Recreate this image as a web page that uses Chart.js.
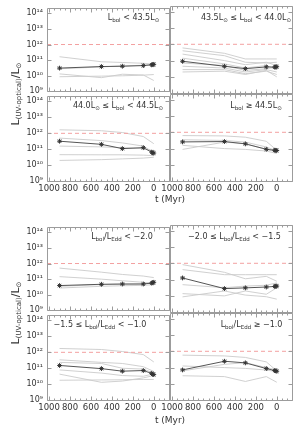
<!DOCTYPE html>
<html><head><meta charset="utf-8">
<script src="https://cdn.jsdelivr.net/npm/chart.js@4.4.1/dist/chart.umd.min.js"></script>
<style>
html,body{margin:0;padding:0;background:#fff;}
#wrap{position:relative;width:306px;height:433px;overflow:hidden;font-family:"DejaVu Sans",sans-serif;color:#333;}
canvas{position:absolute;}
.lab{position:absolute;font-size:8px;white-space:nowrap;transform:translate(-50%,-50%);line-height:1;color:#333;}
.lab sub{font-size:5.5px;vertical-align:-2px;line-height:0;}
.ytitle{position:absolute;font-size:11px;white-space:nowrap;transform:translate(-50%,-50%) rotate(-90deg);line-height:1;color:#333;}
.ytitle sub{font-size:7px;vertical-align:-2px;line-height:0;}
.xtitle{position:absolute;font-size:9px;white-space:nowrap;transform:translate(-50%,-50%);line-height:1;color:#333;}
</style></head>
<body><div id="wrap"></div>
<script>
// ---------- data ----------
const trackTimes = [900, 500, 300, 100, 0];
const meanTimes = [900, 500, 300, 100, 20, 10, 0];
const xTickValues = [1000, 800, 600, 400, 200, 0];
const xTickLabels = ['1000', '800', '600', '400', '200', '0'];
const yTickValues = [1e9, 1e10, 1e11, 1e12, 1e13, 1e14];
const yTickLabels = ['10⁹', '10¹⁰', '10¹¹', '10¹²', '10¹³', '10¹⁴'];
const refLevel = 1e12;

const p1Mean = [3.1e10, 3.9e10, 4.1e10, 4.5e10, 5.0e10, 5.2e10, 5.4e10];
const p1Tracks = [
  [1.66e11, 7.9e10, 7.1e10, 6.3e10, 5.6e10],
  [1.32e10, 7.6e9, 1.26e10, 1.12e10, 5.0e9],
  [8.7e9, 9.5e9, 1.0e10, 1.1e10, 1.2e10],
  [2.8e10, 3.7e10, 4.3e10, 4.7e10, 5.8e10]
];
const p2Mean = [9.1e10, 4.5e10, 3.2e10, 4.1e10, 4.0e10, 4.1e10, 4.2e10];
const p2Tracks = [
  [6.0e11, 2.8e11, 1.26e11, 1.26e11, 1.26e11],
  [4.0e11, 2.0e11, 7.9e10, 7.1e10, 7.9e10],
  [2.5e11, 1.0e11, 5.6e10, 7.9e10, 5.0e10],
  [1.41e11, 6.3e10, 3.5e10, 5.0e10, 2.8e10],
  [7.1e10, 5.0e10, 2.5e10, 3.16e10, 4.0e10],
  [4.5e10, 3.5e10, 2.0e10, 2.8e10, 2.0e10],
  [2.8e10, 2.8e10, 1.58e10, 2.24e10, 1.41e10],
  [2.0e10, 2.24e10, 1.41e10, 2.5e10, 1.0e10]
];
const p3Mean = [3.2e11, 2.04e11, 1.1e11, 1.26e11, 6.6e10, 6.0e10, 5.8e10];
const p3Tracks = [
  [1.66e12, 1.45e12, 1.12e12, 6.3e11, 2.24e11],
  [5.0e11, 3.5e11, 2.5e11, 1.58e11, 6.3e10],
  [1.58e11, 1.41e11, 1.26e11, 1.12e11, 7.9e10],
  [4.6e10, 4.5e10, 4.5e10, 4.3e10, 4.0e10],
  [2.0e10, 2.24e10, 2.5e10, 2.8e10, 3.16e10]
];
const p4Mean = [2.57e11, 2.7e11, 1.95e11, 9.1e10, 7.9e10, 7.8e10, 7.6e10];
const p4Tracks = [
  [6.3e11, 6.0e11, 5.0e11, 2.8e11, 7.9e10],
  [3.5e11, 3.16e11, 2.5e11, 1.26e11, 7.1e10],
  [8.9e10, 2.5e11, 2.0e11, 8.9e10, 6.3e10],
  [1.58e11, 1.0e11, 8.9e10, 7.1e10, 5.0e10]
];
const p5Mean = [3.9e10, 4.7e10, 4.9e10, 4.9e10, 5.6e10, 6.0e10, 6.3e10];
const p5Tracks = [
  [5.1e11, 2.8e11, 2.0e11, 1.58e11, 1.26e11],
  [1.45e11, 1.0e11, 7.9e10, 6.3e10, 5.0e10],
  [2.7e10, 3.5e10, 3.8e10, 4.0e10, 4.5e10],
  [3.5e10, 4.5e10, 4.7e10, 5.0e10, 7.1e10]
];
const p6Mean = [1.26e11, 2.8e10, 3.1e10, 3.5e10, 3.8e10, 3.9e10, 4.0e10];
const p6Tracks = [
  [8.3e11, 2.8e11, 1.12e11, 1.58e11, 7.9e10],
  [4.1e11, 2.0e11, 2.0e11, 2.0e11, 2.0e11],
  [4.9e10, 3.16e10, 4.0e10, 4.5e10, 6.3e10],
  [1.38e10, 1.0e10, 2.0e10, 1.26e10, 3.16e10],
  [8.7e9, 2.0e10, 1.12e10, 8.9e9, 6.3e9]
];
const p7Mean = [1.5e11, 9.5e10, 6.6e10, 7.2e10, 4.8e10, 4.2e10, 4.0e10];
const p7Tracks = [
  [1.74e12, 1.5e12, 1.12e12, 7.2e11, 2.5e11],
  [3.4e11, 2.34e11, 2.0e11, 1.26e11, 6.3e10],
  [2.34e11, 2.0e11, 1.0e11, 8.9e10, 5.0e10],
  [7.9e10, 5.0e10, 3.5e10, 3.16e10, 4.5e10],
  [4.3e10, 1.32e10, 1.58e10, 2.5e10, 3.5e10],
  [1.78e10, 1.86e10, 1.9e10, 2.0e10, 2.0e10]
];
const p8Mean = [7.2e10, 2.45e11, 1.95e11, 8.7e10, 6.6e10, 6.3e10, 6.0e10];
const p8Tracks = [
  [5.8e11, 5.2e11, 4.2e11, 2.24e11, 6.3e10],
  [6.3e10, 1.58e11, 2.0e11, 1.0e11, 7.1e10],
  [3.16e10, 2.8e10, 1.41e10, 2.8e10, 1.26e10],
  [1.26e11, 1.0e11, 8.9e10, 7.1e10, 5.6e10]
];
const panelLabels = [
  'L<sub>bol</sub> &lt; 43.5L<sub>⊙</sub>',
  '43.5L<sub>⊙</sub> ≤ L<sub>bol</sub> &lt; 44.0L<sub>⊙</sub>',
  '44.0L<sub>⊙</sub> ≤ L<sub>bol</sub> &lt; 44.5L<sub>⊙</sub>',
  'L<sub>bol</sub> ≥ 44.5L<sub>⊙</sub>',
  'L<sub>bol</sub>/L<sub>Edd</sub> &lt; −2.0',
  '−2.0 ≤ L<sub>bol</sub>/L<sub>Edd</sub> &lt; −1.5',
  '−1.5 ≤ L<sub>bol</sub>/L<sub>Edd</sub> &lt; −1.0',
  'L<sub>bol</sub>/L<sub>Edd</sub> ≥ −1.0'
];
const yTitle = 'L<sub>(UV-optical)</sub>/L<sub>⊙</sub>';
const xTitle = 't (Myr)';

// ---------- layout ----------
const FONT = "'DejaVu Sans', sans-serif";
const W = 123, H = 88;
const colLeft = [47, 170];
const panels = [
  {mean: p1Mean, tracks: p1Tracks, col: 0, top: 6,   bottomRow: false, lx: 133.5},
  {mean: p2Mean, tracks: p2Tracks, col: 1, top: 6,   bottomRow: false, lx: 246},
  {mean: p3Mean, tracks: p3Tracks, col: 0, top: 94,  bottomRow: true,  lx: 118},
  {mean: p4Mean, tracks: p4Tracks, col: 1, top: 94,  bottomRow: true,  lx: 256},
  {mean: p5Mean, tracks: p5Tracks, col: 0, top: 225, bottomRow: false, lx: 122},
  {mean: p6Mean, tracks: p6Tracks, col: 1, top: 225, bottomRow: false, lx: 234.5},
  {mean: p7Mean, tracks: p7Tracks, col: 0, top: 313, bottomRow: true,  lx: 100},
  {mean: p8Mean, tracks: p8Tracks, col: 1, top: 313, bottomRow: true,  lx: 251.5}
];

const framePlugin = {
  id: 'frame',
  afterDatasetsDraw(chart) {
    const {ctx, chartArea: a, scales} = chart;
    const x = scales.x, y = scales.y;
    const L = Math.round(a.left) + 0.5, R = Math.round(a.right) - 0.5;
    const T = Math.round(a.top) + 0.5, B = Math.round(a.bottom) - 0.5;
    ctx.save();
    ctx.strokeStyle = '#9c9c9c';
    ctx.lineWidth = 1;
    ctx.beginPath();
    ctx.rect(L, T, R - L, B - T);
    for (let v = 1000; v >= -150; v -= 50) {
      const px = Math.round(x.getPixelForValue(v)) + 0.5;
      const len = (v % 200 === 0) ? 4 : 2;
      ctx.moveTo(px, B); ctx.lineTo(px, B - len);
      ctx.moveTo(px, T); ctx.lineTo(px, T + len);
    }
    yTickValues.forEach(v => {
      const py = Math.round(y.getPixelForValue(v)) + 0.5;
      ctx.moveTo(L, py); ctx.lineTo(L + 4, py);
      ctx.moveTo(R, py); ctx.lineTo(R - 4, py);
    });
    ctx.stroke();
    ctx.restore();
  }
};

const wrap = document.getElementById('wrap');
panels.forEach((p, i) => {
  const isLeft = p.col === 0, isBottom = p.bottomRow;
  const padL = isLeft ? 47 : 20, padR = 8, padT = 7, padB = isBottom ? 20 : 7;
  const cw = W + padL + padR, ch = H + padT + padB;
  const cv = document.createElement('canvas');
  cv.width = cw; cv.height = ch;
  cv.style.width = cw + 'px'; cv.style.height = ch + 'px';
  cv.style.left = (colLeft[p.col] - padL) + 'px';
  cv.style.top = (p.top - padT) + 'px';
  wrap.appendChild(cv);

  const datasets = [];
  datasets.push({
    data: meanTimes.map((t, k) => ({x: t, y: p.mean[k]})),
    borderColor: '#555', borderWidth: 1, tension: 0,
    pointStyle: 'star', pointRadius: 2.4, pointBorderColor: '#333',
    pointBackgroundColor: '#333', pointBorderWidth: 1, order: 0
  });
  datasets.push({
    data: [{x: 1020, y: refLevel}, {x: -155, y: refLevel}],
    borderColor: '#f3a0a0', borderWidth: 1, borderDash: [4, 3],
    pointRadius: 0, order: 1
  });
  p.tracks.forEach(tr => datasets.push({
    data: trackTimes.map((t, k) => ({x: t, y: tr[k]})),
    borderColor: '#cbcbcb', borderWidth: 0.9, pointRadius: 0, tension: 0, order: 2
  }));

  const xScale = {
    type: 'linear', reverse: true, min: -155, max: 1020, display: isBottom,
    grid: {display: false, drawTicks: false}, border: {display: false},
    ticks: {font: {size: 8.5, family: FONT}, color: '#333', padding: 2, maxRotation: 0, autoSkip: false,
      callback: (v) => { const k = xTickValues.indexOf(v); return k >= 0 ? xTickLabels[k] : ''; }},
    afterBuildTicks: s => { s.ticks = xTickValues.map(v => ({value: v})); }
  };
  if (isBottom) xScale.afterFit = s => { s.height = padB; };
  const yScale = {
    type: 'logarithmic', min: Math.pow(10, 8.95), max: Math.pow(10, 14.35), display: isLeft,
    grid: {display: false, drawTicks: false}, border: {display: false},
    ticks: {font: {size: 8, family: FONT}, color: '#333', padding: 4, autoSkip: false,
      callback: (v) => { const k = yTickValues.indexOf(v); return k >= 0 ? yTickLabels[k] : ''; }},
    afterBuildTicks: s => { s.ticks = yTickValues.map(v => ({value: v})); }
  };
  if (isLeft) yScale.afterFit = s => { s.width = padL; };

  new Chart(cv, {
    type: 'line',
    data: {datasets},
    options: {
      responsive: false, animation: false, devicePixelRatio: 1,
      layout: {padding: {left: isLeft ? 0 : padL, right: padR, top: padT, bottom: isBottom ? 0 : padB}},
      plugins: {legend: {display: false}, tooltip: {enabled: false}},
      scales: {x: xScale, y: yScale}
    },
    plugins: [framePlugin]
  });

  const lab = document.createElement('div');
  lab.className = 'lab';
  lab.innerHTML = panelLabels[i];
  lab.style.left = p.lx + 'px';
  lab.style.top = (p.top + 12) + 'px';
  wrap.appendChild(lab);
});

[94, 313].forEach(cy => {
  const d = document.createElement('div');
  d.className = 'ytitle'; d.innerHTML = yTitle;
  d.style.left = '15px'; d.style.top = cy + 'px';
  wrap.appendChild(d);
});
[199, 420].forEach(cy => {
  const d = document.createElement('div');
  d.className = 'xtitle'; d.textContent = xTitle;
  d.style.left = '170px'; d.style.top = cy + 'px';
  wrap.appendChild(d);
});
</script>
</body></html>
